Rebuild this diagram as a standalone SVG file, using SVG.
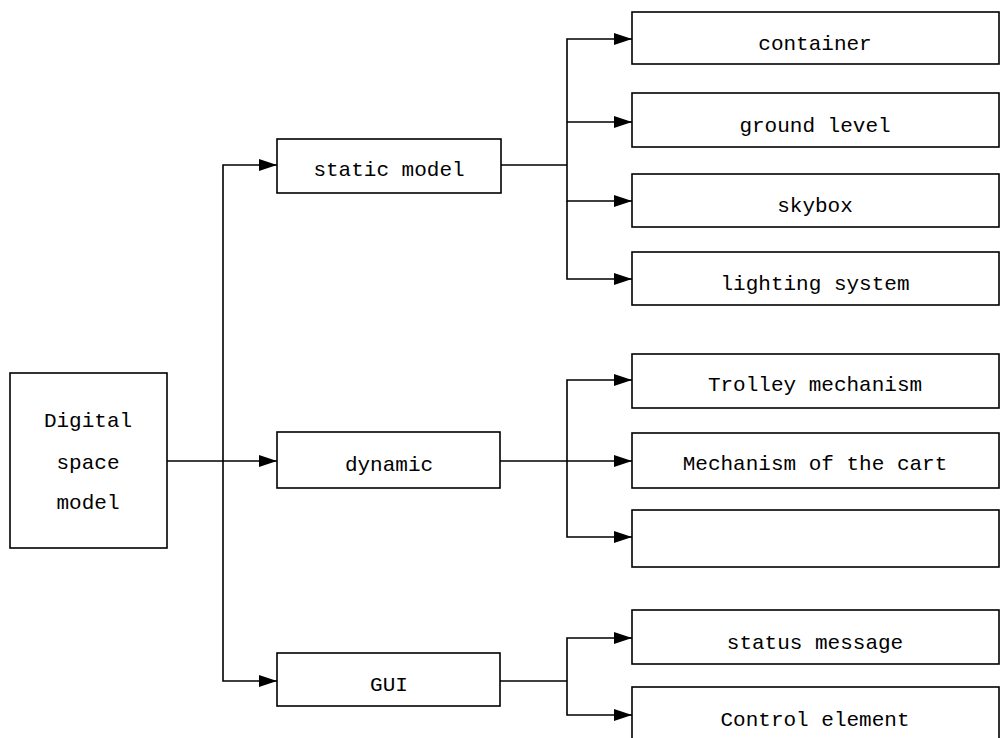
<svg xmlns="http://www.w3.org/2000/svg" width="1001" height="738" viewBox="0 0 1001 738">
<style>
.box{fill:#fff;stroke:#000;stroke-width:1.6}
.t{font-family:"Liberation Mono","DejaVu Sans Mono",monospace;font-size:21px;fill:#000;text-anchor:middle}
.c{fill:none;stroke:#000;stroke-width:1.6}
</style>
<defs>
<marker id="ah" markerUnits="userSpaceOnUse" markerWidth="18" markerHeight="12" refX="18" refY="6" orient="auto">
<path d="M0,0 L18,6 L0,12 z" fill="#000"/>
</marker>
</defs>
<rect width="1001" height="738" fill="#fff"/>
<g id="connectors">
<path class="c" d="M167,461 H223"/>
<path class="c" d="M223,461 V165 H277" marker-end="url(#ah)"/>
<path class="c" d="M223,461 H277" marker-end="url(#ah)"/>
<path class="c" d="M223,461 V681 H277" marker-end="url(#ah)"/>
<path class="c" d="M501,165 H567"/>
<path class="c" d="M567,165 V39 H632" marker-end="url(#ah)"/>
<path class="c" d="M567,122 H632" marker-end="url(#ah)"/>
<path class="c" d="M567,165 V201 H632" marker-end="url(#ah)"/>
<path class="c" d="M567,201 V279 H632" marker-end="url(#ah)"/>
<path class="c" d="M500,461 H632" marker-end="url(#ah)"/>
<path class="c" d="M567,461 V380 H632" marker-end="url(#ah)"/>
<path class="c" d="M567,461 V537 H632" marker-end="url(#ah)"/>
<path class="c" d="M500,681 H567"/>
<path class="c" d="M567,681 V638 H632" marker-end="url(#ah)"/>
<path class="c" d="M567,681 V715 H632" marker-end="url(#ah)"/>
</g>
<g id="root"><rect class="box" x="10" y="373" width="157" height="175"/>
<text class="t" x="88" y="427">Digital</text><text class="t" x="88" y="469">space</text><text class="t" x="88" y="509">model</text></g>
<g id="static"><rect class="box" x="277" y="139" width="224" height="54"/><text class="t" x="389" y="176">static model</text></g>
<g id="dynamic"><rect class="box" x="277" y="432" width="223" height="56"/><text class="t" x="389" y="471">dynamic</text></g>
<g id="gui"><rect class="box" x="277" y="653" width="223" height="53"/><text class="t" x="389" y="691">GUI</text></g>
<g id="container"><rect class="box" x="632" y="12" width="367" height="52"/><text class="t" x="815" y="50">container</text></g>
<g id="ground"><rect class="box" x="632" y="93" width="367" height="54"/><text class="t" x="815" y="132">ground level</text></g>
<g id="skybox"><rect class="box" x="632" y="174" width="367" height="53"/><text class="t" x="815" y="212">skybox</text></g>
<g id="lighting"><rect class="box" x="632" y="252" width="367" height="53"/><text class="t" x="815" y="290">lighting system</text></g>
<g id="trolley"><rect class="box" x="632" y="354" width="367" height="54"/><text class="t" x="815" y="391">Trolley mechanism</text></g>
<g id="cart"><rect class="box" x="632" y="433" width="367" height="55"/><text class="t" x="815" y="470">Mechanism of the cart</text></g>
<g id="blank"><rect class="box" x="632" y="510" width="367" height="57"/></g>
<g id="status"><rect class="box" x="632" y="610" width="367" height="54"/><text class="t" x="815" y="649">status message</text></g>
<g id="control"><rect class="box" x="632" y="687" width="367" height="60"/><text class="t" x="815" y="726">Control element</text></g>
</svg>
